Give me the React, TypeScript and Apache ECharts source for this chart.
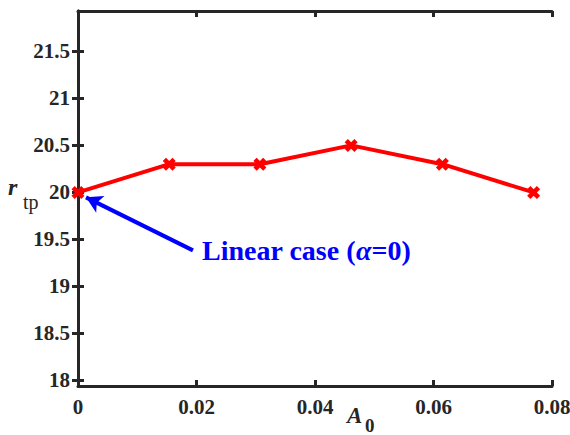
import React, { useEffect, useRef } from "react";
import * as echarts from "echarts";

const xValues = [0, 0.0154, 0.0307, 0.0461, 0.0615, 0.0769];
const rtpValues = [20, 20.3, 20.3, 20.5, 20.3, 20];
const yTicks = [18, 18.5, 19, 19.5, 20, 20.5, 21, 21.5];
const xTicks = [0, 0.02, 0.04, 0.06, 0.08];
const arrowFrom = [0.0194, 19.383];
const arrowTo = [0.00135, 19.947];
const annotation = "Linear case (";

const FONT = "Liberation Serif";
const AXIS_COLOR = "#262626";
const CROSS = "path://M0,3 L3,0 L6,3 L9,0 L12,3 L9,6 L12,9 L9,12 L6,9 L3,12 L0,9 L3,6 Z";

export default function App() {
  const ref = useRef<HTMLDivElement>(null);
  useEffect(() => {
    if (!ref.current) return;
    const chart = echarts.init(ref.current, null, { renderer: "svg" });
    const xMin = 0, xMax = 0.08, yMin = 17.94, yMax = 21.93;
    const axisLine = { show: true, lineStyle: { color: AXIS_COLOR, width: 3 } };
    const tickStyle = { inside: true, length: 6, lineStyle: { color: AXIS_COLOR, width: 3 } };
    const tickRich = { t: { fontFamily: FONT, fontWeight: "bold", fontSize: 21, color: AXIS_COLOR } };
    chart.setOption({
      animation: false,
      backgroundColor: "#ffffff",
      textStyle: { fontFamily: FONT },
      grid: { left: 78, top: 11, width: 474, height: 375, containLabel: false, outerBoundsMode: "none" },
      xAxis: [
        {
          type: "value", position: "bottom", min: xMin, max: xMax, interval: 0.02,
          axisLine, axisTick: { ...tickStyle, customValues: xTicks }, splitLine: { show: false },
          axisLabel: {
            color: AXIS_COLOR, fontFamily: FONT, fontWeight: "bold", fontSize: 21,
            margin: 10, customValues: xTicks, rich: tickRich,
            formatter: (v: number) => "{t|" + (v === 0 ? "0" : v.toFixed(2)) + "}",
          },
        },
        {
          type: "value", position: "top", min: xMin, max: xMax, interval: 0.02,
          axisLine, axisTick: { ...tickStyle, customValues: xTicks }, axisLabel: { show: false }, splitLine: { show: false },
        },
      ],
      yAxis: [
        {
          type: "value", position: "left", min: yMin, max: yMax,
          axisLine, axisTick: { ...tickStyle, customValues: yTicks }, splitLine: { show: false },
          axisLabel: {
            color: AXIS_COLOR, fontFamily: FONT, fontWeight: "bold", fontSize: 21,
            margin: 8, customValues: yTicks, rich: tickRich,
            formatter: (v: number) => "{t|" + String(v) + "}",
          },
        },
        {
          type: "value", position: "right", min: yMin, max: yMax,
          axisLine, axisTick: { ...tickStyle, customValues: yTicks }, axisLabel: { show: false }, splitLine: { show: false },
        },
      ],
      series: [
        {
          type: "line",
          data: xValues.map((x, i) => [x, rtpValues[i]]),
          xAxisIndex: 0,
          yAxisIndex: 0,
          clip: false,
          symbol: CROSS,
          symbolSize: 13,
          showAllSymbol: true,
          lineStyle: { color: "#ff0000", width: 4 },
          itemStyle: { color: "#ff0000" },
          z: 5,
          markLine: {
            silent: true,
            animation: false,
            label: { show: false },
            lineStyle: { color: "#0000ff", width: 4, type: "solid" },
            symbolSize: [14, 16],
            data: [[
              { coord: arrowFrom, symbol: "none" },
              { coord: arrowTo, symbol: "arrow" },
            ]],
          },
        },
      ],
      graphic: [
        {
          type: "text", left: 202, top: 236,
          style: {
            text: "{n|" + annotation + "}{g|α}{n|=0)}",
            rich: {
              n: { fontFamily: FONT, fontWeight: "bold", fontSize: 28, fill: "#0000ff" },
              g: { fontFamily: FONT, fontWeight: "bold", fontStyle: "italic", fontSize: 28, fill: "#0000ff" },
            },
          },
        },
        { type: "text", x: 8, y: 199, style: { text: "r", fontFamily: FONT, fontWeight: "bold", fontStyle: "italic", fontSize: 24, fill: AXIS_COLOR, textVerticalAlign: "bottom" } },
        { type: "text", x: 23, y: 212, style: { text: "tp", fontFamily: FONT, fontSize: 20, fill: AXIS_COLOR, textVerticalAlign: "bottom" } },
        { type: "text", x: 347, y: 427, style: { text: "A", fontFamily: FONT, fontWeight: "bold", fontStyle: "italic", fontSize: 23, fill: AXIS_COLOR, textVerticalAlign: "bottom" } },
        { type: "text", x: 365, y: 435, style: { text: "0", fontFamily: FONT, fontWeight: "bold", fontSize: 19, fill: AXIS_COLOR, textVerticalAlign: "bottom" } },
      ],
    });
    return () => chart.dispose();
  }, []);
  return <div ref={ref} style={{ position: "fixed", left: 0, top: 0, width: 570, height: 435 }} />;
}
